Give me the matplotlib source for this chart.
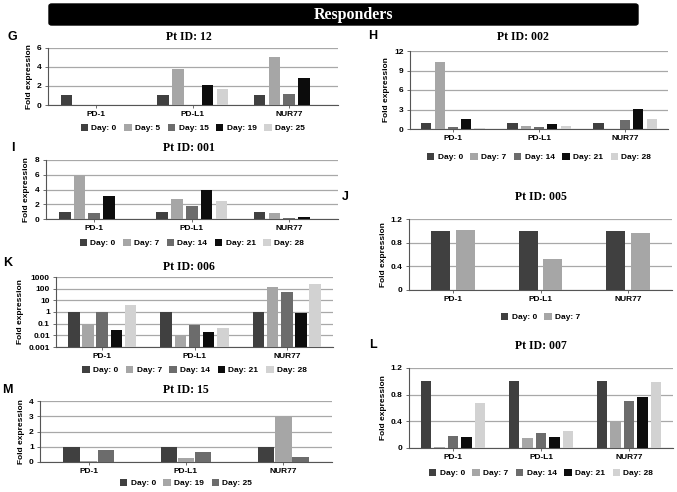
import numpy as np
import matplotlib.pyplot as plt
from matplotlib.patches import FancyBboxPatch

W, H = 677, 492

genes = ['PD-1', 'PD-L1', 'NUR77']

days5 = ['Day: 0', 'Day: 7', 'Day: 14', 'Day: 21', 'Day: 28']
days_g = ['Day: 0', 'Day: 5', 'Day: 15', 'Day: 19', 'Day: 25']
days_j = ['Day: 0', 'Day: 7']
days_m = ['Day: 0', 'Day: 19', 'Day: 25']

# values per day (rows), genes in order PD-1, PD-L1, NUR77
g_vals = [[1.0, 1.0, 1.0], [0, 3.8, 5.0], [0, 0, 1.1], [0, 2.1, 2.8], [0, 1.7, 0]]
h_vals = [[1.0, 1.0, 1.0], [10.3, 0.4, 0], [0.25, 0.25, 1.4], [1.5, 0.7, 3.1], [0.15, 0.45, 1.6]]
i_vals = [[1.0, 1.0, 1.0], [6.0, 2.7, 0.8], [0.8, 1.7, 0.1], [3.1, 4.0, 0.25], [0, 2.4, 0]]
j_vals = [[1.0, 1.0, 1.0], [1.02, 0.53, 0.96]]
k_vals = [[1.0, 1.0, 1.0], [0.1, 0.01, 150], [1.0, 0.07, 50], [0.03, 0.02, 0.9], [4.0, 0.04, 250]]
l_vals = [[1.0, 1.0, 1.0], [0.02, 0.15, 0.4], [0.18, 0.22, 0.7], [0.17, 0.16, 0.76], [0.68, 0.25, 0.99]]
m_vals = [[1.0, 1.0, 1.0], [0.08, 0.28, 3.0], [0.8, 0.65, 0.3]]

col5 = ['#404040', '#a6a6a6', '#6c6c6c', '#0c0c0c', '#d2d2d2']
col_j = ['#404040', '#a6a6a6']
col_m = ['#404040', '#a6a6a6', '#6c6c6c']

SANS = 'Liberation Sans'
SERIF = 'Liberation Serif'

fig = plt.figure(figsize=(W / 100, H / 100), dpi=100)


def px_axes(l, t, r, b):
    return fig.add_axes([l / W, 1 - b / H, (r - l) / W, (b - t) / H])


def panel(box, days, vals, colors, ylim, yticks, ylabels, width, step,
          letter, lpos, title, tpos, legy, log=False):
    ax = px_axes(*box)
    x = np.arange(len(genes))
    n = len(days)
    base = ylim[0] if log else 0
    for j in range(n):
        pos = x + (j - (n - 1) / 2) * step
        hts = np.array(vals[j], dtype=float)
        if log:
            ax.bar(pos, hts - base, width, bottom=base, color=colors[j],
                   label=days[j], zorder=3)
        else:
            ax.bar(pos, hts, width, color=colors[j], label=days[j], zorder=3)
    if log:
        ax.set_yscale('log')
    ax.set_ylim(*ylim)
    ax.set_xlim(-0.5, len(genes) - 0.5)
    ax.set_yticks(yticks)
    ax.set_yticklabels(ylabels)
    ax.minorticks_off()
    ax.set_xticks(x)
    ax.set_xticklabels(genes)
    ax.yaxis.grid(True, color='#a8a8a8', lw=0.9, zorder=0)
    for s in ['top', 'right']:
        ax.spines[s].set_visible(False)
    for s in ['left', 'bottom']:
        ax.spines[s].set_color('#555555')
        ax.spines[s].set_linewidth(0.8)
    ax.tick_params(axis='both', labelsize=6, length=2.5, width=0.6,
                   color='#555555', pad=2)
    for lab in ax.get_xticklabels() + ax.get_yticklabels():
        lab.set_fontweight('bold')
        lab.set_fontfamily(SANS)
    ax.set_ylabel('Fold expression', fontsize=6, fontfamily=SANS,
                  fontweight='bold', labelpad=3)
    fig.text(lpos[0] / W, 1 - lpos[1] / H, letter, fontsize=9,
             fontweight='bold', fontfamily=SANS, ha='left', va='center')
    fig.text(tpos[0] / W, 1 - tpos[1] / H, title, fontsize=8.5,
             fontweight='bold', fontfamily=SERIF, ha='center', va='center')
    cx = (box[0] + box[2]) / 2
    ax.legend(loc='center', bbox_to_anchor=(cx / W, 1 - legy / H),
              bbox_transform=fig.transFigure,
              ncol=n, frameon=False, handlelength=0.9, handleheight=0.9,
              handletextpad=0.4, columnspacing=0.9, borderaxespad=0,
              prop={'family': SANS, 'weight': 'bold', 'size': 6})
    return ax


# banner
fig.patches.append(FancyBboxPatch((49 / W, 1 - 25 / H), 589 / W, 21 / H,
                                  boxstyle='round,pad=0,rounding_size=0.004',
                                  transform=fig.transFigure, color='black'))
fig.text(353 / W, 1 - 15 / H, 'Responders', color='white', fontsize=11.5,
         fontweight='bold', fontfamily=SERIF, ha='center', va='center')

panel((48, 47.5, 337.5, 105), days_g, g_vals, col5, (0, 6), [0, 2, 4, 6],
      ['0', '2', '4', '6'], 0.12, 0.154, 'G', (7, 37), 'Pt ID: 12', (189, 37), 128)
panel((410, 51, 668, 129), days5, h_vals, col5, (0, 12), [0, 3, 6, 9, 12],
      ['0', '3', '6', '9', '12'], 0.12, 0.155, 'H', (368, 36), 'Pt ID: 002', (523, 37), 157)
panel((45.6, 160, 338, 219), days5, i_vals, col5, (0, 8), [0, 2, 4, 6, 8],
      ['0', '2', '4', '6', '8'], 0.12, 0.152, 'I', (11, 148), 'Pt ID: 001', (189, 148), 243)
panel((409, 219, 672, 290), days_j, j_vals, col_j, (0, 1.2), [0, 0.4, 0.8, 1.2],
      ['0', '0.4', '0.8', '1.2'], 0.215, 0.28, 'J', (342, 197), 'Pt ID: 005', (541, 197), 317)
kt = [0.001, 0.01, 0.1, 1, 10, 100, 1000]
panel((56, 277, 333, 347), days5, k_vals, col5, (0.001, 1000), kt,
      ['0.001', '0.01', '0.1', '1', '10', '100', '1000'], 0.125, 0.153,
      'K', (3, 263), 'Pt ID: 006', (189, 267), 370, log=True)
panel((409, 368, 673, 448), days5, l_vals, col5, (0, 1.2), [0, 0.4, 0.8, 1.2],
      ['0', '0.4', '0.8', '1.2'], 0.12, 0.153, 'L', (369, 345), 'Pt ID: 007', (541, 346), 473)
panel((40, 401, 332, 462), days_m, m_vals, col_m, (0, 4), [0, 1, 2, 3, 4],
      ['0', '1', '2', '3', '4'], 0.17, 0.176, 'M', (2, 390), 'Pt ID: 15', (186, 390), 483)

fig.savefig('out.png', dpi=100)
